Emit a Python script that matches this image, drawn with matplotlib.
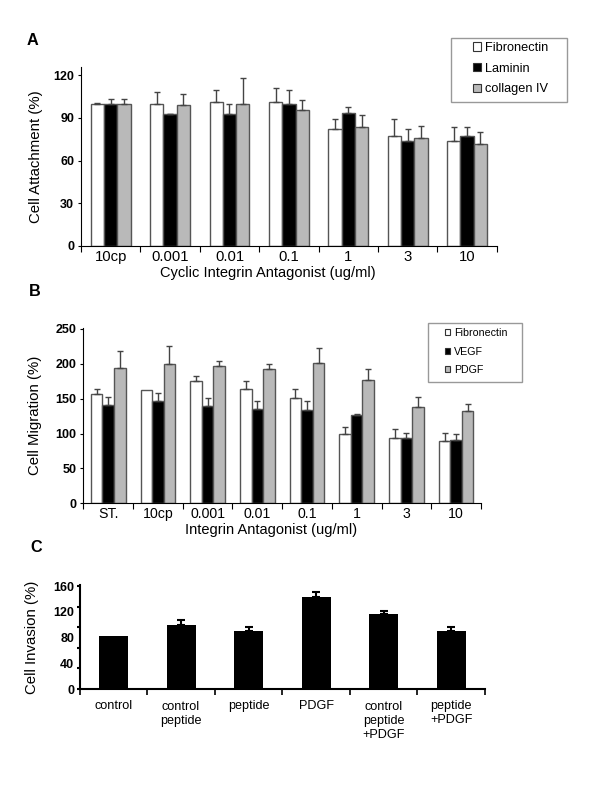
import numpy as np
import matplotlib.pyplot as plt
from matplotlib.patches import Patch, Rectangle

plt.rcParams["font.family"] = ["Liberation Sans", "DejaVu Sans"]
plt.rcParams["font.size"] = 10

# Panel A data
a_labels = ["10cp", "0.001", "0.01", "0.1", "1", "3", "10"]
a_fibronectin = [100, 100, 101.5, 101, 82, 77.5, 73.5]
a_fibronectin_err = [0.7, 8.5, 8, 10, 7, 11.5, 10]
a_laminin = [100, 92.5, 93, 99.5, 93.5, 73.5, 77]
a_laminin_err = [3.5, 0.5, 7, 10, 4.5, 8.5, 7]
a_collagen = [100, 99, 100, 95.5, 83.5, 76, 72]
a_collagen_err = [3.5, 8, 18, 7, 8.5, 8.5, 8]

# Panel B data
b_labels = ["ST.", "10cp", "0.001", "0.01", "0.1", "1", "3", "10"]
b_fibronectin = [156, 162, 176, 163.5, 151.5, 100, 93, 89.5]
b_fibronectin_err = [7.5, 0, 6, 12.5, 13, 9.5, 13, 11]
b_vegf = [141, 146, 139, 135, 134, 126, 93, 91]
b_vegf_err = [11, 12, 12, 11.5, 12.5, 1.5, 7.5, 8]
b_pdgf = [194, 200, 197, 193, 201, 177, 138, 132]
b_pdgf_err = [25, 25, 7, 7, 22, 15.5, 14, 11]

# Panel C data
c_labels = ["control", "control\npeptide", "peptide", "PDGF",
            "control\npeptide\n+PDGF", "peptide\n+PDGF"]
c_values = [82, 99.5, 91, 143, 117, 91]
c_err = [0, 8, 5, 8, 5, 5.5]

white = "white"
black = "black"
grey = "#b9b9b9"
edge = "#555555"


def upper_errorbars(ax, x, vals, errs, color, lw, cap):
    x, vals, errs = map(np.asarray, (x, vals, errs))
    keep = errs > 0
    ax.errorbar(x[keep], vals[keep], yerr=[np.zeros(keep.sum()), errs[keep]],
                fmt="none", ecolor=color, elinewidth=lw, capsize=cap, capthick=lw)


def grouped_bars(ax, series, width):
    n = len(series[0][0])
    x = np.arange(n) + 0.5
    for k, (vals, errs, color) in enumerate(series):
        pos = x + (k - 1) * width
        ax.bar(pos, vals, width, color=color, edgecolor=edge, linewidth=1)
        upper_errorbars(ax, pos, vals, errs, "#444444", 1, 2.3)


def style_axis(ax, labels, xlabel, ylabel, labelpad):
    n = len(labels)
    ax.set_xlim(0, n)
    ax.spines["top"].set_visible(False)
    ax.spines["right"].set_visible(False)
    ax.set_xticks(np.arange(n + 1))
    ax.set_xticklabels([])
    ax.set_xticks(np.arange(n) + 0.5, minor=True)
    ax.tick_params(axis="x", which="major", direction="out", length=4)
    ax.tick_params(axis="x", which="minor", length=0, pad=3)
    ax.tick_params(axis="y", direction="out", length=2, labelsize=9, pad=3)
    if xlabel:
        ax.set_xlabel(xlabel, fontsize=10.5)
    ax.set_ylabel(ylabel, fontsize=10.8, labelpad=labelpad)


fig = plt.figure(figsize=(6, 8), dpi=100)

# ---- Panel A
axA = fig.add_axes([0.135, 0.6925, 0.693, 0.224])
grouped_bars(axA, [(a_fibronectin, a_fibronectin_err, white),
                   (a_laminin, a_laminin_err, black),
                   (a_collagen, a_collagen_err, grey)], 0.224)
axA.set_ylim(0, 126)
axA.set_yticks([0, 30, 60, 90, 120])
axA.set_yticklabels(["0", "30", "60", "90", "120"], fontweight="bold")
style_axis(axA, a_labels, "Cyclic Integrin Antagonist (ug/ml)", "Cell Attachment (%)", 7)
axA.set_xticklabels(a_labels, minor=True, fontsize=10.7)
axA.xaxis.set_label_coords(0.45, -0.113)

handles = [Patch(facecolor=c, edgecolor="#333333", linewidth=0.8)
           for c in (white, black, grey)]
fig.add_artist(Rectangle((0.7517, 0.8725), 0.1933, 0.08, transform=fig.transFigure,
                         facecolor="white", edgecolor="#999999", linewidth=1))
fig.legend(handles, ["Fibronectin", "Laminin", "collagen IV"],
           loc="upper left", bbox_to_anchor=(0.788, 0.9475),
           fontsize=9.2, handlelength=0.63, handleheight=0.63,
           handletextpad=0.3, labelspacing=0.68, borderpad=0,
           borderaxespad=0, frameon=False)

# ---- Panel B
axB = fig.add_axes([0.139, 0.371, 0.6625, 0.2195])
grouped_bars(axB, [(b_fibronectin, b_fibronectin_err, white),
                   (b_vegf, b_vegf_err, black),
                   (b_pdgf, b_pdgf_err, grey)], 0.232)
axB.set_ylim(0, 252)
axB.set_yticks([0, 50, 100, 150, 200, 250])
axB.set_yticklabels(["0", "50", "100", "150", "200", "250"], fontweight="bold")
style_axis(axB, b_labels, "Integrin Antagonist (ug/ml)", "Cell Migration (%)", 10)
axB.set_xticklabels(b_labels, minor=True, fontsize=10.2)
axB.xaxis.set_label_coords(0.472, -0.115)

fig.add_artist(Rectangle((0.7128, 0.5225), 0.157, 0.0734, transform=fig.transFigure,
                         facecolor="white", edgecolor="#999999", linewidth=1))
fig.legend(handles, ["Fibronectin", "VEGF", "PDGF"],
           loc="upper left", bbox_to_anchor=(0.7417, 0.59),
           fontsize=7.7, handlelength=0.5, handleheight=0.5,
           handletextpad=0.35, labelspacing=0.8, borderpad=0,
           borderaxespad=0, frameon=False)

# ---- Panel C
axC = fig.add_axes([0.133, 0.13875, 0.675, 0.13])
xc = np.arange(len(c_values)) + 0.5
axC.bar(xc, c_values, 0.43, color=black)
upper_errorbars(axC, xc, c_values, c_err, black, 1.5, 3)
axC.set_ylim(0, 162)
axC.yaxis.remove_overlapping_locs = False
axC.set_yticks([0, 32, 64, 96, 128, 160])
axC.set_yticklabels([])
axC.set_yticks([0, 40, 80, 120, 160], minor=True)
axC.set_yticklabels(["0", "40", "80", "120", "160"], minor=True, fontweight="bold")
style_axis(axC, c_labels, None, "Cell Invasion (%)", 10)
axC.tick_params(axis="y", which="major", length=2.5, width=1.5)
axC.tick_params(axis="y", which="minor", length=0, labelsize=9, pad=4)
axC.tick_params(axis="x", which="major", width=1.2)
axC.spines["left"].set_linewidth(1.5)
axC.spines["bottom"].set_linewidth(1.5)
c_offsets = [0.0, -0.01, 0.0, 0.0, -0.01, 0.0]
for x, lab, off in zip(xc, c_labels, c_offsets):
    axC.text(x, -0.102 + off, lab, transform=axC.get_xaxis_transform(),
             ha="center", va="top", fontsize=9.1, linespacing=1.22)

# panel letters
for letter, x, y in (("A", 0.045, 0.949), ("B", 0.048, 0.635), ("C", 0.051, 0.315)):
    fig.text(x, y, letter, fontsize=11.7, fontweight="bold", ha="left", va="center")

fig.savefig("out.png", dpi=100)
